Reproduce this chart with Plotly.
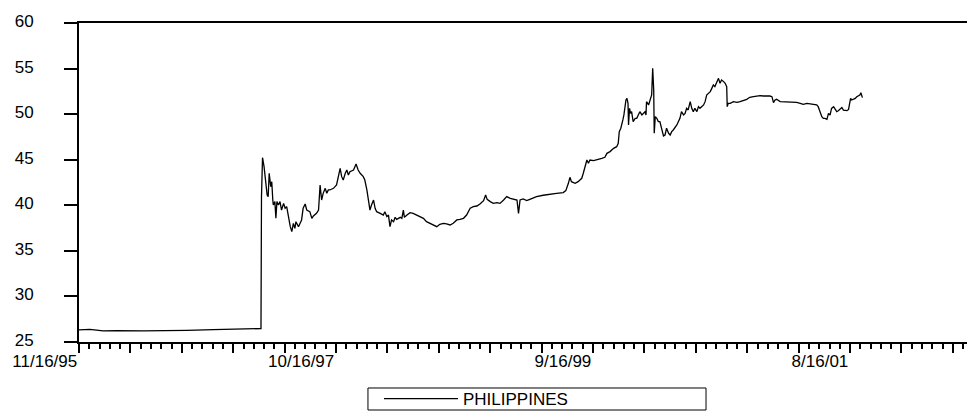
import plotly.graph_objects as go

obs = [0, 21, 47, 73, 125, 171, 210, 261, 300, 352, 354,
       355, 357, 360, 364, 366, 368, 370, 373, 375, 377, 378, 381, 383, 385, 388, 391, 394, 398,
       401, 404, 407, 411, 414, 417, 420, 422, 427, 430, 433, 436, 440, 443, 449, 453, 456, 462,
       466, 469, 472, 475, 479, 482, 485, 488, 495, 501, 508, 511, 514, 518, 521, 524, 527, 534,
       539, 543, 547, 553, 556, 560, 563, 566, 569, 573, 576, 579, 586, 592, 595, 599, 602, 605,
       608, 612, 615, 618, 625, 628, 631, 633, 638, 644, 650, 657, 663, 670, 676, 683, 689, 696,
       702, 709, 715, 722, 728, 735, 741, 748, 754, 761, 767, 774, 780, 787, 791, 794, 800, 806,
       813, 819, 826, 832, 839, 845, 852, 855, 858, 864, 871, 877,
       890, 903, 916, 929, 942, 947, 952, 955, 958, 965, 971, 978, 981, 984, 988, 991, 994, 1001,
       1007, 1017, 1023, 1027, 1033, 1040, 1046, 1049, 1051, 1054, 1058, 1060, 1064, 1066, 1068,
       1069, 1071, 1073, 1075, 1078, 1082, 1085, 1088, 1091, 1095, 1098, 1101, 1103, 1104, 1108,
       1111, 1114, 1116, 1118, 1119, 1121, 1124, 1127, 1130, 1134, 1137, 1140, 1143, 1147, 1150,
       1153, 1156, 1163, 1169, 1172, 1176, 1179, 1182, 1185, 1189, 1192, 1195, 1198, 1202, 1205,
       1208, 1215, 1218, 1221, 1224, 1228, 1231, 1234, 1237, 1241, 1244, 1247, 1250, 1254, 1257,
       1260, 1261, 1263, 1267, 1273, 1280, 1286, 1293, 1299, 1302, 1305, 1312, 1318, 1325, 1331,
       1338, 1344, 1348, 1351, 1354, 1357, 1364, 1370, 1377, 1383, 1390, 1396, 1403, 1409, 1416,
       1422, 1429, 1435, 1438, 1442, 1445, 1448, 1451, 1455, 1458, 1461, 1464, 1468, 1471, 1474,
       1477, 1481, 1484, 1487, 1494, 1497, 1500, 1501, 1503, 1507, 1510, 1513, 1516, 1519, 1521,
       1524]

philippines = [26.32, 26.39, 26.21, 26.25, 26.21, 26.21, 26.28, 26.36, 26.43, 26.47, 26.47,
               40.95, 45.22, 44.24, 42.41, 41.13, 40.95, 43.51, 42.04, 42.59, 40.58, 40.03, 40.40,
               38.57, 40.40, 40.03, 40.40, 39.48, 40.21, 39.67, 39.85, 38.75, 37.65, 37.11, 38.02,
               37.47, 38.20, 37.65, 38.02, 38.39, 39.67, 40.14, 39.48, 39.30, 38.57, 38.83, 39.12,
               39.48, 42.23, 40.58, 41.31, 41.86, 41.31, 41.68, 41.68, 41.86, 42.23, 44.05, 43.14,
               42.77, 43.51, 43.87, 43.32, 43.69, 43.87, 44.53, 43.87, 43.51, 43.14, 42.77, 41.68,
               40.58, 39.48, 40.03, 40.58, 39.67, 39.30, 39.12, 38.93, 39.30, 38.75, 38.93, 37.65,
               38.39, 38.20, 38.68, 38.46, 38.68, 38.57, 39.48, 38.68, 38.93, 39.19, 39.12, 38.93,
               38.75, 38.57, 38.20, 38.02, 37.91, 37.65, 37.91, 38.02, 37.95, 37.84, 38.02, 38.39,
               38.46, 38.57, 38.93, 39.67, 39.85, 39.92, 40.14, 40.51, 41.13, 40.65, 40.40, 40.21,
               40.29, 40.21, 40.58, 40.95, 40.76, 40.69, 40.58, 39.12, 40.58, 40.69, 40.51, 40.65,
               40.95, 41.10, 41.24, 41.31, 41.39, 41.61, 42.41, 43.07, 42.59, 42.41, 42.59, 42.96,
               43.51, 44.24, 44.97, 44.61, 44.97, 44.90, 44.97, 45.15, 45.26, 45.70, 45.89, 46.25,
               46.43, 46.80, 48.08, 48.45, 49.36, 49.91, 51.55, 51.74, 51.19, 48.81, 50.64, 50.09,
               50.27, 49.18, 49.54, 49.54, 49.91, 50.27, 49.91, 50.09, 50.27, 49.91, 51.37, 51.01,
               51.55, 52.10, 55.03, 52.65, 47.90, 49.73, 49.54, 49.18, 49.18, 48.26, 47.61, 47.71,
               48.45, 47.90, 47.71, 48.08, 48.26, 48.81, 49.54, 50.27, 49.91, 50.09, 50.64, 50.46,
               51.37, 50.64, 50.27, 50.64, 50.27, 50.82, 50.64, 51.01, 51.37, 52.10, 52.29, 52.47,
               52.83, 53.20, 53.02, 53.57, 53.93, 53.38, 53.75, 53.57, 53.38, 53.02, 50.82, 51.19,
               51.19, 51.37, 51.30, 51.37, 51.48, 51.63, 51.74, 51.85, 51.92, 51.99, 52.03, 51.99,
               52.03, 51.99, 51.92, 51.26, 51.55, 51.63, 51.37, 51.37, 51.30, 51.30, 51.30, 51.30,
               51.19, 51.08, 51.19, 51.12, 51.08, 51.01, 50.82, 50.27, 49.73, 49.54, 49.54, 49.43,
               50.09, 49.90, 50.63, 50.82, 50.45, 50.27, 50.38, 50.63, 50.74, 50.45, 50.38, 50.52,
               51.18, 51.73, 51.55, 51.62, 51.73, 51.91, 51.99, 52.10, 52.35, 51.81]

major_ticks = list(range(0, 1800, 100))
date_labels = {0: "11/16/95", 500: "10/16/97", 1000: "9/16/99", 1500: "8/16/01"}
tick_text = [date_labels.get(v, "") for v in major_ticks]

FONT = "Arial, Liberation Sans, sans-serif"

fig = go.Figure()
fig.add_trace(go.Scatter(x=obs, y=philippines, mode="lines", name="PHILIPPINES",
                         line=dict(color="black", width=1.3)))

# the page body adds an 8px offset, so margins are shifted by 8px
fig.update_layout(
    width=975, height=414,
    margin=dict(l=71, r=8, t=15, b=80, autoexpand=False),
    paper_bgcolor="white", plot_bgcolor="white",
    font=dict(family=FONT, size=17, color="black"),
    showlegend=True,
    legend=dict(orientation="h", x=0.3348, xanchor="left", y=-0.1223, yanchor="top",
                borderwidth=0, bgcolor="rgba(0,0,0,0)", itemwidth=74,
                font=dict(family=FONT, size=17, color="black")),
    # frame around the legend
    shapes=[dict(type="rect", xref="paper", yref="paper",
                 x0=0.3225, x1=0.6998, y0=-0.2132, y1=-0.1442,
                 line=dict(color="black", width=1), fillcolor="rgba(0,0,0,0)", layer="above")],
)
fig.update_xaxes(
    range=[0, 1743], showgrid=False, zeroline=False, automargin=False,
    showline=True, linecolor="black", linewidth=2, mirror=True,
    tickmode="array", tickvals=major_ticks, ticktext=tick_text,
    ticks="outside", ticklen=9, tickwidth=1.5, tickcolor="black",
    ticklabelposition="outside left", ticklabelstandoff=3,
    minor=dict(dtick=20, tick0=0, ticks="outside", ticklen=5, tickwidth=1.5, tickcolor="black"),
)
fig.update_yaxes(
    range=[25, 60], dtick=5, tick0=25, showgrid=False, zeroline=False, automargin=False,
    showline=True, linecolor="black", linewidth=2,
    ticks="outside", ticklen=13, tickwidth=1.5, tickcolor="black",
    ticklabelstandoff=27, ticklabelshift=-2,
)

fig.write_html("out.html")
